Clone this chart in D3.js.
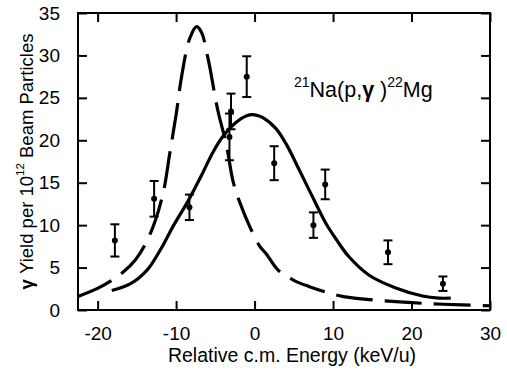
<!DOCTYPE html>
<html>
<head>
<meta charset="utf-8">
<script src="https://cdn.jsdelivr.net/npm/d3@7"></script>
<style>
  html, body { margin: 0; padding: 0; background: #fff; }
  svg { display: block; font-family: "Liberation Sans", Arial, sans-serif; }
</style>
</head>
<body>
<svg id="chart" width="507" height="370"></svg>
<script>
// Measured yield points: energy (keV/u), yield, and symmetric uncertainty
const energy = [-17.8, -12.8, -8.3, -3.0, -3.2, -1.0, 2.5, 7.5, 9.0, 17.0, 24.0];
const yieldVal = [8.2, 13.1, 12.1, 23.4, 20.4, 27.5, 17.3, 10.0, 14.8, 6.8, 3.1];
const yieldErr = [1.9, 2.1, 1.5, 2.1, 2.75, 2.4, 2.0, 1.5, 1.75, 1.4, 0.85];

// Fitted yield curve (solid)
const fitX = [-18.2, -15.8, -13.7, -12.0, -10.3, -8.5, -6.8, -5.3, -4.0, -2.5, -1.0, 0.0, 1.0, 2.7, 4.0, 5.7, 7.4, 9.1, 10.5, 12.0, 14.6, 18.0, 21.4, 23.5, 25.0];
const fitY = [2.3, 3.1, 4.7, 7.1, 10.0, 12.8, 15.8, 18.6, 20.5, 22.0, 22.9, 23.0, 22.7, 21.4, 19.6, 16.5, 13.3, 10.2, 8.2, 6.3, 4.1, 2.6, 1.65, 1.4, 1.4];

// Alternative resonance profile (dashed)
const altX = [-22.5, -20.0, -18.2, -16.7, -15.2, -13.9, -12.7, -11.6, -10.8, -10.0, -9.3, -8.3, -7.4, -6.8, -5.9, -4.7, -3.6, -2.7, -1.6, -0.6, 0.6, 1.5, 3.0, 5.0, 7.0, 9.5, 11.2, 13.0, 18.0, 24.0, 30.0];
const altY = [1.6, 2.55, 3.5, 4.5, 5.9, 7.8, 10.4, 14.0, 18.5, 23.0, 27.5, 31.9, 33.4, 32.8, 29.5, 23.6, 19.5, 15.0, 12.0, 9.8, 7.6, 6.6, 4.7, 3.5, 2.75, 2.0, 1.6, 1.38, 0.98, 0.68, 0.5];

const xTicks = [-20, -10, 0, 10, 20, 30];
const yTicks = [0, 5, 10, 15, 20, 25, 30, 35];

const svg = d3.select("#chart");
const m = { left: 78, right: 490, top: 13, bottom: 310 };

const x = d3.scaleLinear().domain([-22.5, 30]).range([m.left, m.right]);
const y = d3.scaleLinear().domain([0, 35]).range([m.bottom, m.top]);

const tickLen = 9;
const fontSize = 19;
const plainNum = d => String(d);

// Frame
svg.append("rect")
  .attr("x", m.left).attr("y", m.top)
  .attr("width", m.right - m.left).attr("height", m.bottom - m.top)
  .attr("fill", "none").attr("stroke", "#000").attr("stroke-width", 2);

// Inward ticks on all four sides
const bottomAxis = d3.axisBottom(x).tickValues(xTicks).tickSizeInner(-tickLen).tickSizeOuter(0).tickPadding(tickLen + 8).tickFormat(plainNum);
const topAxis = d3.axisTop(x).tickValues(xTicks).tickSizeInner(-tickLen).tickSizeOuter(0).tickFormat("");
const leftAxis = d3.axisLeft(y).tickValues(yTicks).tickSizeInner(-tickLen).tickSizeOuter(0).tickPadding(tickLen + 9).tickFormat(plainNum);
const rightAxis = d3.axisRight(y).tickValues(yTicks).tickSizeInner(-tickLen).tickSizeOuter(0).tickFormat("");

function styleAxis(g) {
  g.select(".domain").remove();
  g.selectAll(".tick line").attr("stroke", "#000").attr("stroke-width", 2);
  g.selectAll(".tick text").attr("fill", "#000").attr("font-size", fontSize)
    .attr("font-family", "Liberation Sans, Arial, sans-serif");
}

svg.append("g").attr("transform", `translate(0,${m.bottom})`).call(bottomAxis).call(styleAxis);
svg.append("g").attr("transform", `translate(0,${m.top})`).call(topAxis).call(styleAxis);
svg.append("g").attr("transform", `translate(${m.left},0)`).call(leftAxis).call(styleAxis);
svg.append("g").attr("transform", `translate(${m.right},0)`).call(rightAxis).call(styleAxis);

// Curves
svg.append("clipPath").attr("id", "plotClip")
  .append("rect").attr("x", m.left).attr("y", m.top)
  .attr("width", m.right - m.left).attr("height", m.bottom - m.top);

const line = d3.line().x(d => x(d[0])).y(d => y(d[1])).curve(d3.curveCatmullRom.alpha(0.5));

svg.append("path")
  .datum(altX.map((v, i) => [v, altY[i]]))
  .attr("d", line)
  .attr("clip-path", "url(#plotClip)")
  .attr("fill", "none").attr("stroke", "#000").attr("stroke-width", 3.2)
  .attr("stroke-dasharray", "37,12");

svg.append("path")
  .datum(fitX.map((v, i) => [v, fitY[i]]))
  .attr("d", line)
  .attr("fill", "none").attr("stroke", "#000").attr("stroke-width", 3.2);

// Data points with error bars
const pts = energy.map((e, i) => ({ e, v: yieldVal[i], s: yieldErr[i] }));
const capW = 4.5;
const gp = svg.append("g");
pts.forEach(p => {
  const cx = x(p.e);
  gp.append("line").attr("x1", cx).attr("x2", cx)
    .attr("y1", y(p.v + p.s)).attr("y2", y(p.v - p.s))
    .attr("stroke", "#000").attr("stroke-width", 2);
  [p.v + p.s, p.v - p.s].forEach(val => {
    gp.append("line").attr("x1", cx - capW).attr("x2", cx + capW)
      .attr("y1", y(val)).attr("y2", y(val))
      .attr("stroke", "#000").attr("stroke-width", 2);
  });
  gp.append("circle").attr("cx", cx).attr("cy", y(p.v)).attr("r", 3).attr("fill", "#000");
});

// Axis titles
svg.append("text")
  .attr("x", (m.left + m.right) / 2 + 8).attr("y", 362)
  .attr("text-anchor", "middle").attr("font-size", 19.5)
  .text("Relative c.m. Energy (keV/u)");

const yl = svg.append("text")
  .attr("transform", `translate(33,${(m.top + m.bottom) / 2}) rotate(-90)`)
  .attr("text-anchor", "middle").attr("font-size", 18.5);
yl.append("tspan").attr("font-weight", "bold").text("γ");
yl.append("tspan").text(" Yield per 10");
yl.append("tspan").attr("font-size", 11.5).attr("dy", -9).text("12");
yl.append("tspan").attr("dy", 9).text(" Beam Particles");

// Reaction label
const rl = svg.append("text").attr("x", 294).attr("y", 97).attr("font-size", 21.5);
rl.append("tspan").attr("font-size", 14).attr("dy", -10).text("21");
rl.append("tspan").attr("dy", 10).text("Na(p,");
rl.append("tspan").attr("font-weight", "bold").text("γ");
rl.append("tspan").text(" )");
rl.append("tspan").attr("font-size", 14).attr("dy", -10).text("22");
rl.append("tspan").attr("dy", 10).text("Mg");
</script>
</body>
</html>
